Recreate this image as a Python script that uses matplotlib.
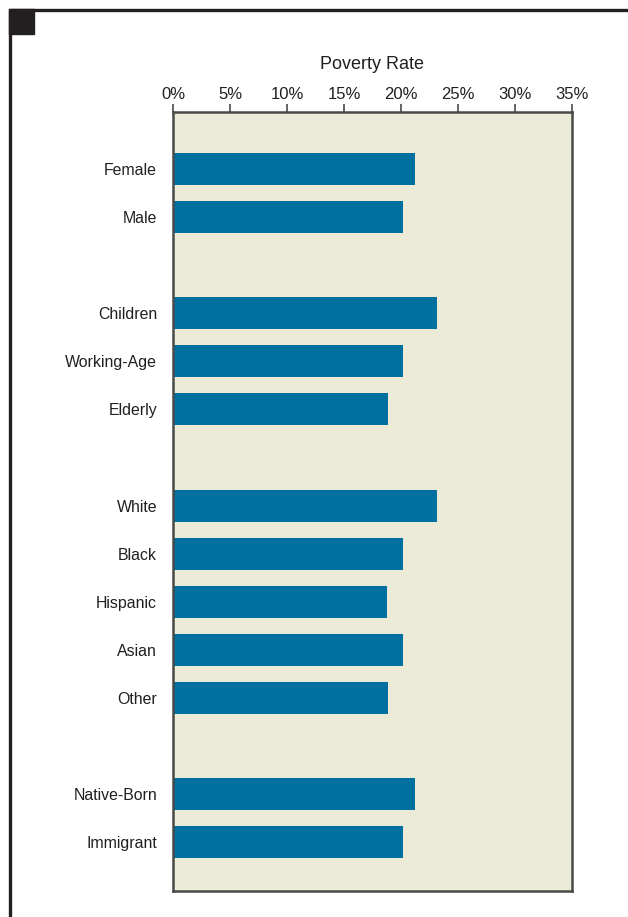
import matplotlib
matplotlib.use("Agg")
import matplotlib.pyplot as plt
from matplotlib.lines import Line2D
from matplotlib.patches import Rectangle

# Poverty rate by group (%)
categories = ["Female", "Male",
              "Children", "Working-Age", "Elderly",
              "White", "Black", "Hispanic", "Asian", "Other",
              "Native-Born", "Immigrant"]
rates = [21.2, 20.2,
         23.2, 20.2, 18.9,
         23.2, 20.2, 18.8, 20.2, 18.9,
         21.2, 20.2]
# row slots, with blank rows separating the groups
slots = [0, 1, 3, 4, 5, 7, 8, 9, 10, 11, 13, 14]
tick_values = [0, 5, 10, 15, 20, 25, 30, 35]
tick_labels = [f"{v}%" for v in tick_values]

plt.rcParams["font.family"] = ["Liberation Sans", "DejaVu Sans"]
INK = "#231f20"

W, H = 628, 917
fig = plt.figure(figsize=(W / 100, H / 100), dpi=100)

# page frame: top and left rules plus the corner block
fig.add_artist(Line2D([9 / W, 1], [1 - 9.5 / H, 1 - 9.5 / H], color=INK, lw=2.4,
                      transform=fig.transFigure, solid_capstyle="butt"))
fig.add_artist(Line2D([9.5 / W, 9.5 / W], [0, 1 - 8.5 / H], color=INK, lw=2.4,
                      transform=fig.transFigure, solid_capstyle="butt"))
fig.add_artist(Rectangle((9 / W, 1 - 34 / H), 25 / W, 25 / H, color=INK,
                         transform=fig.transFigure))

left, right, top, bottom = 173 / W, 572 / W, 1 - 112 / H, 1 - 891 / H
ax = fig.add_axes([left, bottom, right - left, top - bottom])
ax.set_facecolor("#ebebd8")

ax.barh(slots, rates, height=0.667, color="#0070a0", zorder=2)

ax.set_xlim(0, 35)
ax.set_ylim(15.02, -1.19)

ax.xaxis.tick_top()
ax.xaxis.set_label_position("top")
ax.set_xticks(tick_values)
ax.set_xticklabels(tick_labels, fontsize=12, color=INK)
ax.tick_params(axis="x", direction="out", length=6, width=1.2, color="#4a4a4a", pad=1.5)
ax.set_xlabel("Poverty Rate", fontsize=13, color=INK, labelpad=13)

ax.set_yticks(slots)
ax.set_yticklabels(categories, fontsize=11.4, color=INK)
ax.tick_params(axis="y", length=0, pad=11.5)

for s in ax.spines.values():
    s.set_color("#4a4a4a")
    s.set_linewidth(1.8)

fig.savefig("out.png", dpi=100, facecolor="white")
